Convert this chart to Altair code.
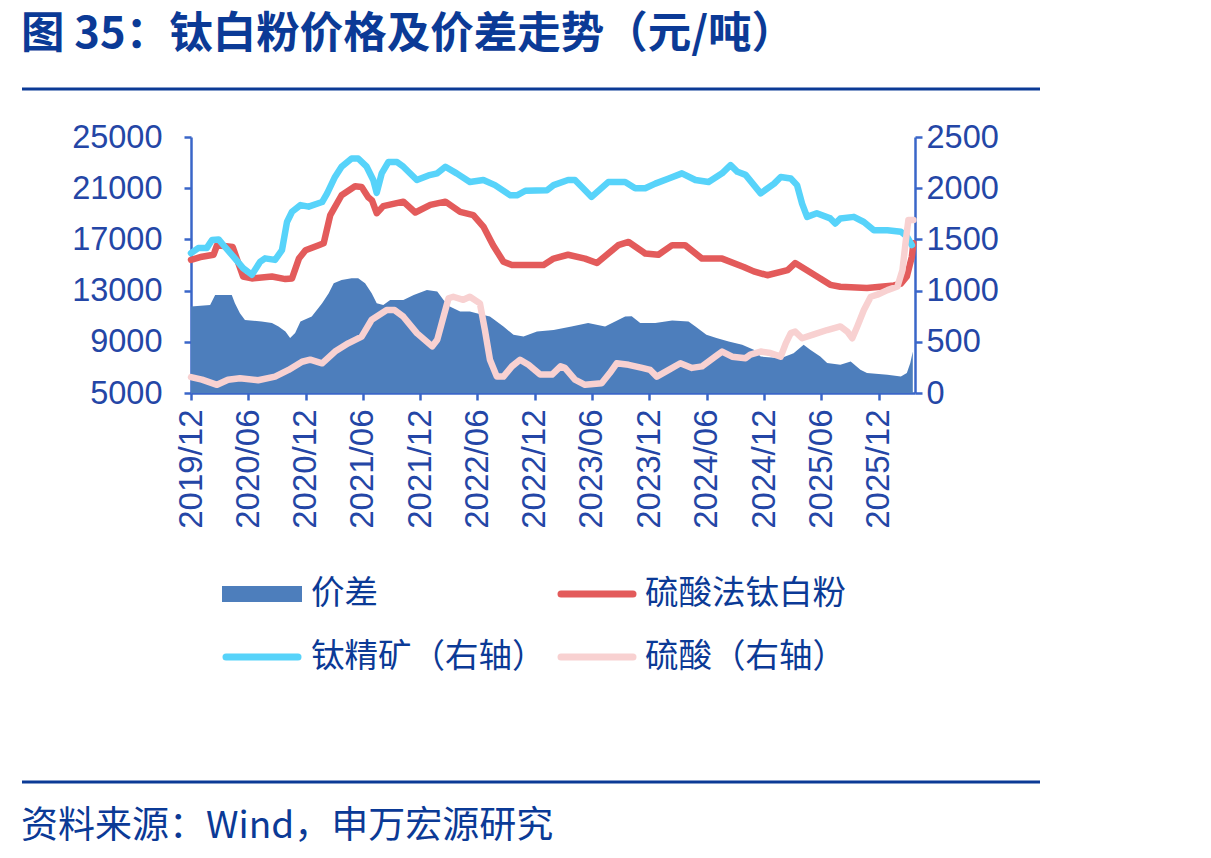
import altair as alt
import pandas as pd

# ---- 价差 (left axis, 元/吨) ----
spread_dates = ["2019-12-01", "2020-01-31", "2020-02-16", "2020-04-09", "2020-04-19", "2020-05-05",
                "2020-05-21", "2020-07-13", "2020-08-15", "2020-09-05", "2020-09-27", "2020-10-12",
                "2020-10-28", "2020-11-14", "2020-12-20", "2021-01-22", "2021-02-12", "2021-02-28",
                "2021-03-25", "2021-04-26", "2021-05-17", "2021-06-08", "2021-06-29", "2021-07-15",
                "2021-08-05", "2021-08-27", "2021-10-08", "2021-11-10", "2021-12-22", "2022-01-24",
                "2022-02-13", "2022-03-05", "2022-04-07", "2022-05-08", "2022-06-20", "2022-07-11",
                "2022-08-23", "2022-09-24", "2022-10-26", "2022-12-08", "2023-01-30", "2023-03-28",
                "2023-05-20", "2023-07-13", "2023-08-14", "2023-09-15", "2023-10-06", "2023-11-02",
                "2023-12-20", "2024-02-12", "2024-04-04", "2024-04-26", "2024-05-31", "2024-07-02",
                "2024-08-10", "2024-09-22", "2024-10-29", "2024-11-20", "2025-01-23", "2025-03-05",
                "2025-04-06", "2025-04-27", "2025-05-29", "2025-06-20", "2025-08-01", "2025-09-03",
                "2025-10-04", "2025-10-25", "2025-12-29", "2026-02-10", "2026-03-01", "2026-03-12",
                "2026-03-20"]
spread_values = [11750, 11880, 12660, 12660, 12015, 11240,
                 10710, 10580, 10460, 10190, 9800, 9290,
                 9680, 10580, 10970, 12015, 12800, 13570,
                 13830, 13960, 13960, 13570, 12800, 12015,
                 11880, 12270, 12270, 12660, 13050, 12920,
                 12270, 11750, 11360, 11360, 11100, 10970,
                 10190, 9545, 9410, 9800, 9930, 10190,
                 10460, 10190, 10580, 10970, 11000, 10460,
                 10460, 10660, 10580, 10190, 9545, 9290,
                 9020, 8765, 8375, 7850, 7720, 8110,
                 8765, 8375, 7850, 7340, 7200, 7460,
                 6820, 6560, 6430, 6290, 6560, 7340,
                 8240]

# ---- 硫酸法钛白粉 (left axis) ----
tio2_dates = ["2019-12-01", "2020-01-05", "2020-02-11", "2020-02-22", "2020-04-12", "2020-05-15",
              "2020-06-12", "2020-08-15", "2020-09-27", "2020-10-18", "2020-11-09", "2020-11-30",
              "2021-01-11", "2021-01-27", "2021-02-17", "2021-03-25", "2021-05-07", "2021-05-28",
              "2021-06-18", "2021-06-30", "2021-07-15", "2021-08-05", "2021-10-08", "2021-11-15",
              "2022-01-02", "2022-02-19", "2022-04-07", "2022-05-19", "2022-06-20", "2022-07-21",
              "2022-08-23", "2022-09-19", "2022-12-29", "2023-01-30", "2023-03-17", "2023-05-10",
              "2023-06-17", "2023-08-24", "2023-09-26", "2023-11-18", "2023-12-30", "2024-02-12",
              "2024-03-24", "2024-05-17", "2024-07-20", "2024-09-27", "2024-10-29", "2024-12-11",
              "2025-02-14", "2025-03-10", "2025-05-02", "2025-05-29", "2025-06-30", "2025-08-01",
              "2025-10-25", "2026-01-19", "2026-02-10", "2026-03-01", "2026-03-17", "2026-03-22"]
tio2_values = [15400, 15650, 15800, 16550, 16400, 14100,
               13950, 14100, 13900, 13950, 15500, 16150,
               16550, 16700, 18900, 20450, 21150, 21100,
               20300, 20050, 19050, 19600, 19950, 19100,
               19700, 19950, 19150, 18900, 18000, 16550,
               15250, 15000, 15000, 15500, 15800, 15500,
               15150, 16550, 16800, 15900, 15800, 16550,
               16550, 15500, 15500, 14850, 14500, 14200,
               14600, 15150, 14350, 13950, 13450, 13300,
               13200, 13400, 13550, 14100, 15650, 16700]

# ---- 钛精矿 (right axis) ----
ore_dates = ["2019-12-01", "2019-12-24", "2020-01-20", "2020-02-06", "2020-02-27", "2020-03-13",
             "2020-04-19", "2020-05-15", "2020-06-12", "2020-07-08", "2020-07-24", "2020-08-25",
             "2020-09-16", "2020-10-02", "2020-10-18", "2020-11-14", "2020-12-10", "2021-01-22",
             "2021-02-07", "2021-03-04", "2021-03-25", "2021-04-26", "2021-05-17", "2021-06-13",
             "2021-07-04", "2021-07-15", "2021-07-31", "2021-08-21", "2021-09-18", "2021-10-08",
             "2021-11-20", "2021-12-27", "2022-01-24", "2022-02-19", "2022-03-27", "2022-05-08",
             "2022-06-20", "2022-07-27", "2022-09-14", "2022-10-05", "2022-11-01", "2023-01-09",
             "2023-01-30", "2023-03-17", "2023-04-08", "2023-05-04", "2023-05-31", "2023-07-23",
             "2023-09-15", "2023-10-17", "2023-11-18", "2023-12-20", "2024-02-01", "2024-03-14",
             "2024-04-26", "2024-06-07", "2024-07-20", "2024-08-16", "2024-09-07", "2024-10-03",
             "2024-11-20", "2025-01-02", "2025-01-23", "2025-02-24", "2025-03-16", "2025-04-01",
             "2025-04-17", "2025-05-18", "2025-06-30", "2025-07-16", "2025-08-01", "2025-09-13",
             "2025-10-15", "2025-11-16", "2025-12-29", "2026-02-10", "2026-03-01", "2026-03-17"]
ore_values = [1365, 1415, 1415, 1495, 1500, 1445,
              1315, 1220, 1155, 1280, 1315, 1300,
              1395, 1670, 1770, 1835, 1820, 1865,
              1950, 2110, 2210, 2290, 2290, 2210,
              2080, 1955, 2145, 2255, 2255, 2210,
              2080, 2125, 2145, 2210, 2145, 2060,
              2080, 2030, 1930, 1930, 1975, 1980,
              2030, 2080, 2080, 2000, 1915, 2060,
              2060, 2000, 2000, 2045, 2095, 2145,
              2080, 2060, 2145, 2225, 2160, 2130,
              1950, 2045, 2110, 2095, 2030, 1850,
              1720, 1755, 1705, 1655, 1705, 1720,
              1670, 1590, 1590, 1575, 1530, 1445]

# ---- 硫酸 (right axis) ----
acid_dates = ["2019-12-01", "2020-01-05", "2020-02-22", "2020-03-28", "2020-05-05", "2020-07-02",
              "2020-08-25", "2020-10-07", "2020-11-19", "2020-12-15", "2021-01-22", "2021-03-04",
              "2021-04-15", "2021-05-28", "2021-06-29", "2021-08-16", "2021-09-10", "2021-10-08",
              "2021-11-20", "2022-01-08", "2022-01-24", "2022-02-13", "2022-03-01", "2022-03-16",
              "2022-04-17", "2022-05-08", "2022-06-09", "2022-06-25", "2022-07-11", "2022-08-02",
              "2022-08-23", "2022-09-19", "2022-10-15", "2022-11-11", "2022-12-18", "2023-01-25",
              "2023-02-21", "2023-03-07", "2023-04-08", "2023-05-10", "2023-07-02", "2023-07-28",
              "2023-08-19", "2023-09-26", "2023-11-08", "2023-12-04", "2023-12-25", "2024-02-01",
              "2024-03-09", "2024-04-15", "2024-05-17", "2024-06-28", "2024-07-20", "2024-08-21",
              "2024-10-03", "2024-10-18", "2024-11-20", "2024-12-21", "2025-01-23", "2025-02-08",
              "2025-02-24", "2025-03-10", "2025-04-01", "2025-05-06", "2025-06-20", "2025-08-01",
              "2025-08-23", "2025-09-08", "2025-09-24", "2025-10-15", "2025-11-06", "2025-11-27",
              "2025-12-29", "2026-01-30", "2026-02-15", "2026-02-26", "2026-03-06", "2026-03-22"]
acid_values = [155, 130, 80, 130, 145, 125,
               160, 225, 305, 325, 290, 405,
               485, 550, 715, 810, 810, 745,
               585, 455, 520, 745, 925, 940,
               910, 940, 875, 615, 325, 160,
               160, 260, 325, 275, 180, 180,
               260, 245, 130, 80, 95, 195,
               290, 275, 245, 225, 160, 225,
               290, 245, 260, 355, 405, 355,
               340, 375, 405, 390, 355, 485,
               585, 600, 535, 570, 615, 650,
               600, 535, 650, 810, 940, 960,
               1005, 1040, 1200, 1495, 1690, 1690]

# x-axis tick months and axis ranges
tick_months = [(2019, 12), (2020, 6), (2020, 12), (2021, 6), (2021, 12), (2022, 6), (2022, 12),
               (2023, 6), (2023, 12), (2024, 6), (2024, 12), (2025, 6), (2025, 12)]
left_ticks = [5000, 9000, 13000, 17000, 21000, 25000]
right_ticks = [0, 500, 1000, 1500, 2000, 2500]

AXIS_BLUE = "#3A66C8"
LABEL_BLUE = "#2446A6"
NAVY = "#0B3A96"
CJK = "Noto Sans CJK SC"
LATIN = "Liberation Sans"

C_SPREAD = "#4D7EBC"
C_TIO2 = "#E35B5B"
C_ORE = "#57D3FA"
C_ACID = "#F8D1D1"

W, H = 724, 256


def frame(dates, values):
    return pd.DataFrame({"date": dates, "value": values})


x_scale = alt.Scale(
    type="utc",
    domain=[alt.DateTime(year=2019, month=12, date=1, utc=True),
            alt.DateTime(year=2026, month=3, date=27, utc=True)],
)
x_axis = alt.Axis(
    values=[alt.DateTime(year=y, month=m, date=1, utc=True) for y, m in tick_months],
    labelExpr="utcFormat(datum.value, '%Y/%m')", labelAngle=270, labelAlign="right",
    labelBaseline="middle", labelFontSize=33, labelFont=LATIN, labelColor=LABEL_BLUE,
    labelPadding=9, labelOverlap=False, labelFlush=False, labelBound=False,
    domainColor=AXIS_BLUE, domainWidth=2.5, tickColor=AXIS_BLUE, tickWidth=2.5,
    tickSize=7, grid=False, title=None,
)


def y_axis(values, orient, pad):
    return alt.Axis(
        values=values, orient=orient, format="d", labelFontSize=32.5, labelFont=LATIN,
        labelColor=LABEL_BLUE, labelPadding=pad, labelFlush=False, labelOverlap=False,
        domainColor=AXIS_BLUE, domainWidth=2.5, tickColor=AXIS_BLUE, tickWidth=2.5,
        tickSize=7, grid=False, title=None,
    )


left_scale = alt.Scale(domain=[5000, 25000], zero=False, nice=False)
right_scale = alt.Scale(domain=[0, 2500], nice=False)
X = alt.X("date:T", scale=x_scale, axis=x_axis)
Y_LEFT = alt.Y("value:Q", scale=left_scale, axis=y_axis(left_ticks, "left", 22))
Y_RIGHT = alt.Y("value:Q", scale=right_scale, axis=y_axis(right_ticks, "right", 4))

spread = alt.Chart(frame(spread_dates, spread_values)).mark_area(
    color=C_SPREAD, opacity=1
).encode(x=X, y=Y_LEFT, y2=alt.datum(5000))

line_style = dict(strokeWidth=6.5, strokeJoin="round", strokeCap="round")
tio2 = alt.Chart(frame(tio2_dates, tio2_values)).mark_line(color=C_TIO2, **line_style).encode(x=X, y=Y_LEFT)
ore = alt.Chart(frame(ore_dates, ore_values)).mark_line(color=C_ORE, **line_style).encode(x=X, y=Y_RIGHT)
acid = alt.Chart(frame(acid_dates, acid_values)).mark_line(color=C_ACID, **line_style).encode(x=X, y=Y_RIGHT)

left_layer = alt.layer(spread, tio2)
right_layer = alt.layer(ore, acid)

one = pd.DataFrame({"k": [0]})


def text_at(txt, x, y, size, font=CJK, color=NAVY, weight="normal"):
    return alt.Chart(one).mark_text(
        text=txt, align="left", baseline="middle", fontSize=size, font=font,
        color=color, fontWeight=weight,
    ).encode(x=alt.value(x), y=alt.value(y))


def hrule(x1, x2, y, color, width, cap="butt"):
    return alt.Chart(one).mark_rule(color=color, strokeWidth=width, strokeCap=cap).encode(
        x=alt.value(x1), x2=alt.value(x2), y=alt.value(y)
    )


# heading, separators and source note (offsets are relative to the plot origin)
title = text_at("图 35：钛白粉价格及价差走势（元/吨）", -170, -102, 43.5, weight="bold")
top_line = hrule(-169, 849, -48, NAVY, 3)
bottom_line = hrule(-169, 849, 645, NAVY, 3)
source = text_at("资料来源：Wind，申万宏源研究", -170, 690, 37)

# legend, two rows by two columns
leg_area = alt.Chart(one).mark_rect(color=C_SPREAD).encode(
    x=alt.value(31), x2=alt.value(111), y=alt.value(449), y2=alt.value(465)
)
leg_tio2 = hrule(370, 442, 457, C_TIO2, 7, "round")
leg_ore = hrule(35, 107, 520, C_ORE, 7, "round")
leg_acid = hrule(370, 442, 520, C_ACID, 7, "round")
leg_texts = [
    text_at("价差", 120, 457, 33.5, color=NAVY),
    text_at("硫酸法钛白粉", 454, 457, 33.5, color=NAVY),
    text_at("钛精矿（右轴）", 120, 520, 33.5, color=NAVY),
    text_at("硫酸（右轴）", 454, 520, 33.5, color=NAVY),
]

chart = alt.layer(
    left_layer, right_layer, title, top_line, bottom_line, source,
    leg_area, leg_tio2, leg_ore, leg_acid, *leg_texts,
).resolve_scale(y="independent").properties(
    width=W, height=H,
    autosize=alt.AutoSizeParams(type="none"),
    padding={"left": 191, "top": 137, "right": 1211 - 191 - W, "bottom": 858 - 137 - H},
    background="white",
).configure_view(stroke=None)

chart.save("out.html", embed_options={"renderer": "svg", "actions": False})
